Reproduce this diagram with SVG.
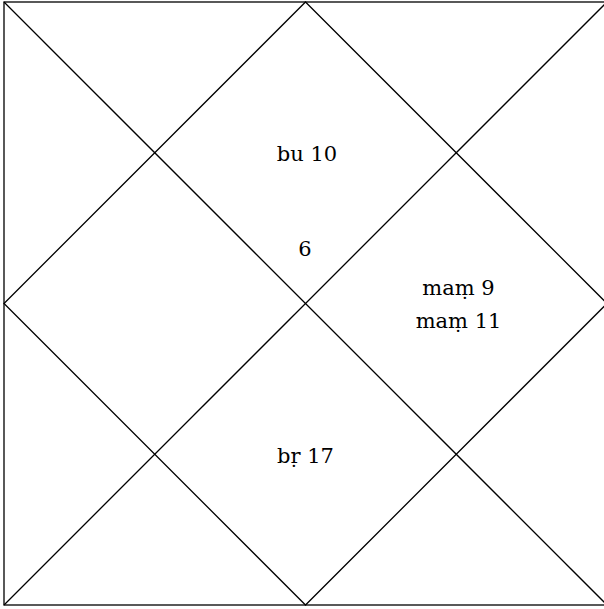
<svg xmlns="http://www.w3.org/2000/svg" width="604" height="609" viewBox="0 0 604 609">
<style>
.l{stroke:#000;stroke-width:1.3;fill:none}
.t{font-family:"DejaVu Serif","Liberation Serif",serif;font-size:21px;fill:#000;text-anchor:middle;font-variant-numeric:oldstyle-nums}
</style>
<rect width="604" height="609" fill="#fff"/>
<g id="connectors">
<rect class="l" x="4" y="2" width="603" height="603"/>
<line class="l" x1="4" y1="2" x2="607" y2="605"/>
<line class="l" x1="607" y1="2" x2="4" y2="605"/>
<polygon class="l" points="305.5,2 607,303.5 305.5,605 4,303.5"/>
</g>
<g id="house1"><text class="t" x="307" y="161">bu 10</text></g>
<g id="center"><text class="t" x="305" y="256">6</text></g>
<g id="house10"><text class="t" x="458.5" y="295">maṃ 9</text><text class="t" x="458.5" y="328">maṃ 11</text></g>
<g id="house7"><text class="t" x="305.5" y="463">bṛ 17</text></g>
</svg>
